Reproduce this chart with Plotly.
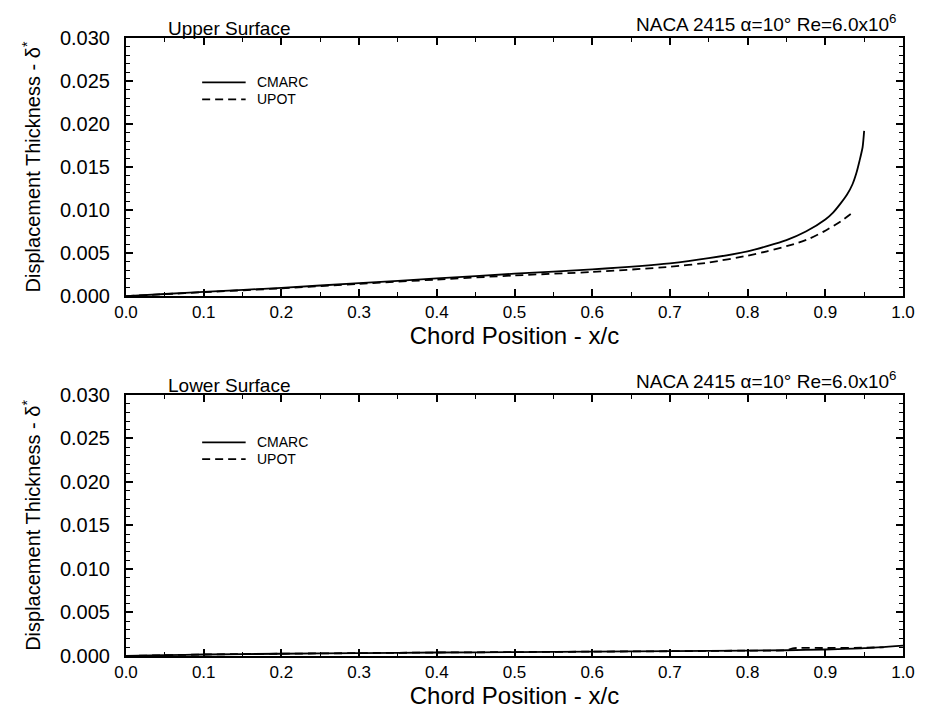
import plotly.graph_objects as go
from plotly.subplots import make_subplots

# Upper surface displacement thickness
upper_x_cmarc = [0.0, 0.05, 0.1, 0.2, 0.3, 0.4, 0.5, 0.6, 0.7, 0.75, 0.8, 0.825, 0.85, 0.875, 0.9, 0.91,
                 0.92, 0.928, 0.935, 0.94, 0.944, 0.948, 0.95]
upper_y_cmarc = [0.0, 0.00024, 0.00048, 0.00096, 0.00150, 0.00205, 0.0026, 0.0031, 0.0038, 0.0044, 0.0052, 0.0058,
                 0.0065, 0.0075, 0.0089, 0.0097, 0.0108, 0.0118, 0.0130, 0.0143, 0.0157, 0.0173, 0.0192]
upper_x_upot = [0.0, 0.05, 0.1, 0.2, 0.3, 0.4, 0.5, 0.6, 0.7, 0.75, 0.8, 0.825, 0.85, 0.865, 0.88, 0.9, 0.92, 0.935]
upper_y_upot = [0.0, 0.00022, 0.00045, 0.0009, 0.00142, 0.00192, 0.0024, 0.0028, 0.0034, 0.0039, 0.0047, 0.0052,
                0.0058, 0.0062, 0.0067, 0.0076, 0.0087, 0.0097]

# Lower surface displacement thickness
lower_x_cmarc = [0.0, 0.05, 0.1, 0.2, 0.3, 0.4, 0.5, 0.6, 0.7, 0.8, 0.85, 0.9, 0.95, 1.0]
lower_y_cmarc = [0.0, 0.0001, 0.00017, 0.00026, 0.00033, 0.0004, 0.00045, 0.0005, 0.00055, 0.00062, 0.00066, 0.00075, 0.0009, 0.0012]
lower_x_upot = [0.0, 0.1, 0.2, 0.3, 0.4, 0.5, 0.6, 0.7, 0.8, 0.85, 0.86, 0.9, 0.95, 0.975]
lower_y_upot = [0.0, 0.00017, 0.00026, 0.00033, 0.0004, 0.00045, 0.0005, 0.00055, 0.00062, 0.00066, 0.0009, 0.00092, 0.00095, 0.001]

panel_titles = ["Upper Surface", "Lower Surface"]
case_label = "NACA 2415 α=10° Re=6.0x10<sup>6</sup>"
series_names = ["CMARC", "UPOT"]

FONT = "Liberation Sans, Arial, Helvetica, sans-serif"
DASH = "8px,5px"

fig = make_subplots(rows=2, cols=1)

panels = [
    (upper_x_cmarc, upper_y_cmarc, upper_x_upot, upper_y_upot),
    (lower_x_cmarc, lower_y_cmarc, lower_x_upot, lower_y_upot),
]
for row, (xc, yc, xu, yu) in enumerate(panels, start=1):
    fig.add_trace(go.Scatter(x=xc, y=yc, mode="lines", name=series_names[0],
                             line=dict(color="black", width=1.8, shape="spline", smoothing=0.6),
                             showlegend=False), row=row, col=1)
    fig.add_trace(go.Scatter(x=xu, y=yu, mode="lines", name=series_names[1],
                             line=dict(color="black", width=1.8, dash=DASH, shape="spline", smoothing=0.6),
                             showlegend=False), row=row, col=1)

axis_common = dict(showline=True, linecolor="black", linewidth=2, mirror="ticks",
                   ticks="inside", tickcolor="black", tickwidth=1.5, ticklen=7,
                   showgrid=False, zeroline=False)

for row in (1, 2):
    fig.update_xaxes(range=[0, 1], dtick=0.1, tick0=0, tickformat=".1f",
                     tickfont=dict(family=FONT, size=17, color="black"),
                     minor=dict(ticks="inside", dtick=0.05, ticklen=4, tickwidth=1.2, tickcolor="black"),
                     title=dict(text="Chord Position - x/c", font=dict(family=FONT, size=24, color="black"),
                                standoff=0),
                     **axis_common, row=row, col=1)
    fig.update_yaxes(range=[0, 0.03], dtick=0.005, tick0=0, tickformat=".3f",
                     tickfont=dict(family=FONT, size=20, color="black"),
                     ticklabelstandoff=10,
                     minor=dict(ticks="inside", dtick=0.001, ticklen=4, tickwidth=1.2, tickcolor="black"),
                     title=dict(text="Displacement Thickness - δ<sup>*</sup>",
                                font=dict(family=FONT, size=20, color="black"), standoff=14),
                     **axis_common, row=row, col=1)

fig.update_layout(
    width=927, height=711,
    margin=dict(l=126, r=16, t=38, b=48),
    paper_bgcolor="white", plot_bgcolor="white",
    font=dict(family=FONT, color="black"),
    xaxis=dict(domain=[0, 1]), yaxis=dict(domain=[0.5824, 1.0]),
    xaxis2=dict(domain=[0, 1]), yaxis2=dict(domain=[0.0, 0.4224]),
)

legend_y = [(0.828, 0.762), (0.818, 0.754)]
for i, (xr, yr) in enumerate([("x domain", "y domain"), ("x2 domain", "y2 domain")]):
    fig.add_annotation(text=panel_titles[i], xref=xr, yref=yr, x=0.052, y=1.0,
                       xanchor="left", yanchor="bottom", showarrow=False, yshift=-3,
                       font=dict(family=FONT, size=19, color="black"))
    fig.add_annotation(text=case_label, xref=xr, yref=yr, x=1.0, y=1.0, xshift=-4,
                       xanchor="right", yanchor="bottom", showarrow=False, yshift=1,
                       font=dict(family=FONT, size=19, color="black"))
    for j, dash in enumerate(["solid", DASH]):
        ly = legend_y[i][j]
        fig.add_shape(type="line", xref=xr, yref=yr, x0=0.098, x1=0.154, y0=ly, y1=ly,
                      line=dict(color="black", width=1.8, dash=dash))
        fig.add_annotation(text=series_names[j], xref=xr, yref=yr, x=0.166, y=ly,
                           xanchor="left", yanchor="middle", showarrow=False,
                           font=dict(family=FONT, size=14, color="black"))

fig.write_html("out.html")
